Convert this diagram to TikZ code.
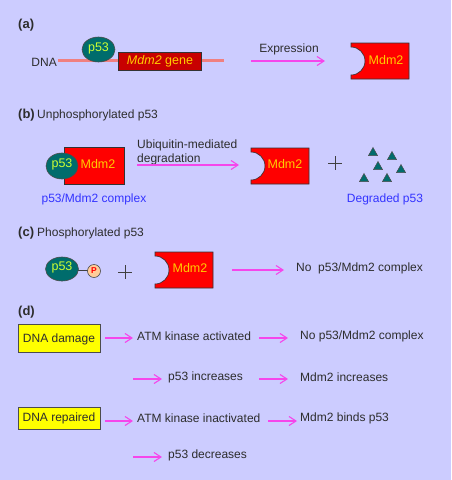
\documentclass[tikz,border=0pt]{standalone}
\usepackage{fontspec}
\setmainfont{Liberation Sans}
\usetikzlibrary{arrows.meta}
\definecolor{bgc}{RGB}{204,204,255}
\definecolor{txt}{RGB}{45,45,45}
\definecolor{arrc}{RGB}{245,70,235}
\definecolor{dnac}{RGB}{240,128,128}
\definecolor{tealc}{RGB}{0,108,108}
\definecolor{p53t}{RGB}{204,255,51}
\definecolor{mdmred}{RGB}{255,0,0}
\definecolor{generd}{RGB}{200,0,0}
\definecolor{mdmt}{RGB}{255,204,0}
\definecolor{bluet}{RGB}{51,51,255}
\definecolor{pfill}{RGB}{255,204,153}
\definecolor{boxy}{RGB}{255,255,0}
\begin{document}
\begin{tikzpicture}[x=1pt,y=-1pt,
  lbl/.style={font=\fontsize{12}{14}\selectfont, text=txt, inner sep=0pt},
  hdr/.style={font=\fontsize{13}{15}\selectfont\bfseries, text=txt, inner sep=0pt, anchor=west},
  arr/.style={draw=arrc, line width=1.1pt, -{Straight Barb[length=7pt,width=9pt]}},
  p53shape/.style={draw=black!70, fill=tealc, line width=0.6pt},
  p53txt/.style={font=\fontsize{12.5}{14}\selectfont, text=p53t, inner sep=0pt},
  mdmtxt/.style={font=\fontsize{12.5}{14}\selectfont, text=mdmt, inner sep=0pt},
  bluetxt/.style={font=\fontsize{12}{14}\selectfont, text=bluet, inner sep=0pt},
  ybox/.style={draw=black!70, fill=boxy, line width=0.8pt},
  plusline/.style={draw=black!75, line width=1pt},
  tri/.style={draw=black!70, fill=tealc, line width=0.5pt},
  mdm/.pic={\draw[draw=black!80, fill=mdmred, line width=0.6pt] (0,0) -- (58,0) -- (58,36) -- (0,36) -- (0,32) arc[start angle=90,end angle=-90,radius=14] -- cycle;}
]
\fill[bgc] (0,0) rectangle (451,480);
\useasboundingbox (0,0) rectangle (451,480);

% ---------- (a) ----------
\node[hdr] (ha) at (18,25) {(a)};
\node[lbl, anchor=east] (dna) at (57,62) {DNA};
\draw[dnac, line width=3pt] (58,60) -- (224,60);
\draw[p53shape] (98.5,49.5) ellipse[x radius=16.5, y radius=12.5];
\node[p53txt] (p53a) at (98.5,48) {p53};
\draw[draw=black!80, fill=generd, line width=0.6pt] (118,52) rectangle (201,70);
\node[mdmtxt] (gene) at (160,61) {\textit{Mdm2} gene};
\coordinate (exs) at (251,61);
\coordinate (exe) at (325,61);
\draw[arr] (exs) -- (exe);
\node[lbl] (expr) at (289,49) {Expression};
\pic at (351,43) {mdm};
\node[mdmtxt] (mdma) at (386,60) {Mdm2};

% ---------- (b) ----------
\node[hdr] (hb) at (18,115) {(b)};
\node[lbl, anchor=west] (unph) at (37,115) {Unphosphorylated p53};
\draw[draw=black!80, fill=mdmred, line width=0.6pt] (64,147) rectangle (124,184);
\draw[p53shape] (62,166) ellipse[x radius=16, y radius=13];
\node[p53txt] (p53b) at (62,164.5) {p53};
\node[mdmtxt] (mdmcx) at (98,164.5) {Mdm2};
\node[bluetxt] (cxl) at (94,199) {p53/Mdm2 complex};
\node[lbl, anchor=west, align=left] (ubi) at (137,152) {Ubiquitin-mediated\\degradation};
\coordinate (ubs) at (137,165);
\coordinate (ube) at (239,165);
\draw[arr] (ubs) -- (ube);
\pic at (251,148) {mdm};
\node[mdmtxt] (mdmb) at (285,164.5) {Mdm2};
\draw[plusline] (328,163) -- (342,163) (335,156) -- (335,170);
\foreach \cx/\cy in {373/152, 392/156, 378/166, 401/169, 364/178, 387/178}{
  \draw[tri] (\cx,\cy-4.5) -- (\cx+4.5,\cy+3.5) -- (\cx-4.5,\cy+3.5) -- cycle;
}
\node[bluetxt] (degl) at (385,199) {Degraded p53};

% ---------- (c) ----------
\node[hdr] (hc) at (18,233) {(c)};
\node[lbl, anchor=west] (phos) at (37,233) {Phosphorylated p53};
\draw[draw=black!75, line width=0.8pt] (78,270) -- (88,270);
\draw[p53shape] (62,269) ellipse[x radius=16.5, y radius=12];
\node[p53txt] (p53c) at (62,267.5) {p53};
\draw[draw=black!70, fill=pfill, line width=0.6pt] (94,271) circle[radius=6.5];
\node[font=\fontsize{8.5}{9}\selectfont\bfseries, text=red, inner sep=0pt] (pp) at (94,271) {P};
\draw[plusline] (118,272) -- (132,272) (125,265) -- (125,279);
\pic at (155,252) {mdm};
\node[mdmtxt] (mdmc) at (190,268.5) {Mdm2};
\coordinate (cas) at (232,270);
\coordinate (cae) at (284,270);
\draw[arr] (cas) -- (cae);
\node[lbl, anchor=west] (nocx) at (296,268) {No\ \ p53/Mdm2 complex};

% ---------- (d) ----------
\node[hdr] (hd) at (18,312) {(d)};
\draw[ybox] (18,324) rectangle (100,352);
\node[lbl] (dmg) at (59,339.5) {DNA damage};
\draw[ybox] (18,407) rectangle (100,429);
\node[lbl] (rep) at (59,418) {DNA repaired};

\coordinate (d1s) at (105,338); \coordinate (d1e) at (133,338);
\coordinate (d2s) at (259,338); \coordinate (d2e) at (288,338);
\coordinate (d3s) at (133,379); \coordinate (d3e) at (162,379);
\coordinate (d4s) at (259,379); \coordinate (d4e) at (288,379);
\coordinate (d5s) at (105,421); \coordinate (d5e) at (133,421);
\coordinate (d6s) at (268,421); \coordinate (d6e) at (297,421);
\coordinate (d7s) at (133,457); \coordinate (d7e) at (162,457);
\foreach \n in {1,...,7}{ \draw[arr] (d\n s) -- (d\n e); }

\node[lbl, anchor=west] (atma) at (137,336) {ATM kinase activated};
\node[lbl, anchor=west] (nocx2) at (300,336) {No p53/Mdm2 complex};
\node[lbl, anchor=west] (p53inc) at (168,377) {p53 increases};
\node[lbl, anchor=west] (mdminc) at (300,377) {Mdm2 increases};
\node[lbl, anchor=west] (atmi) at (137,418) {ATM kinase inactivated};
\node[lbl, anchor=west] (binds) at (300,418) {Mdm2 binds p53};
\node[lbl, anchor=west] (p53dec) at (168,455) {p53 decreases};
\end{tikzpicture}
\end{document}
